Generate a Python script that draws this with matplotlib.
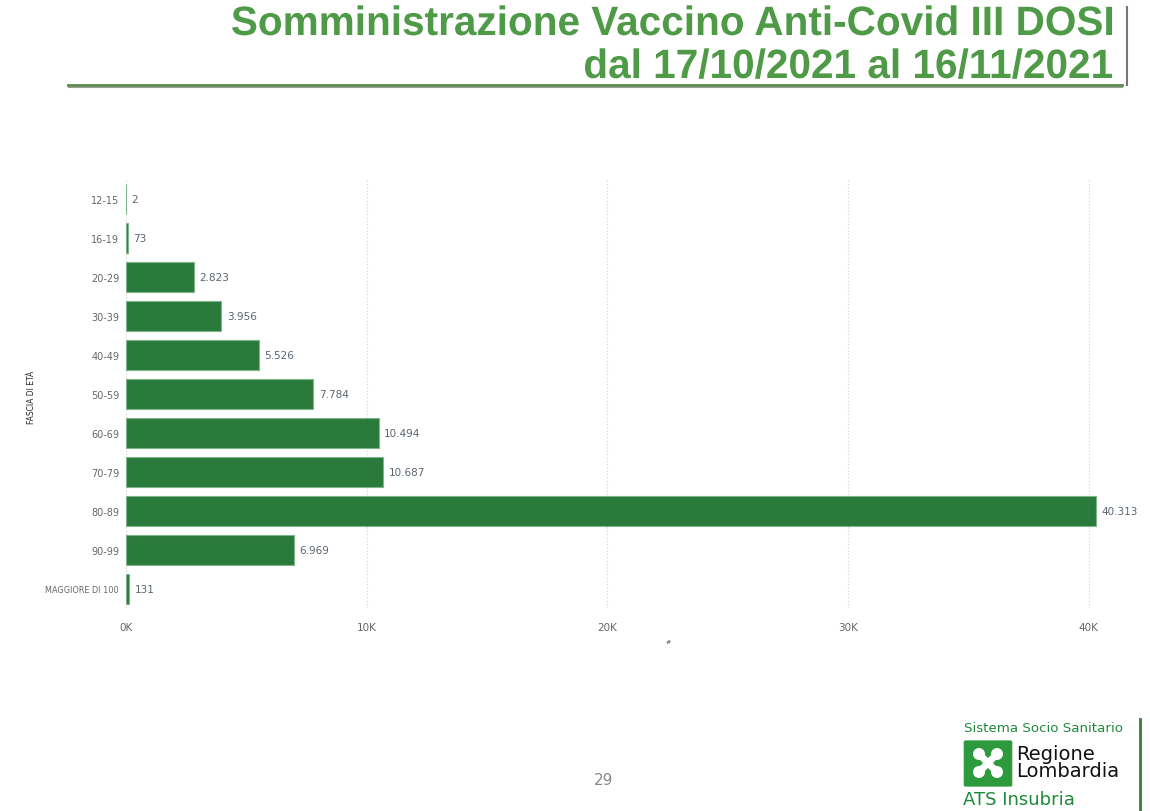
import matplotlib.pyplot as plt
from matplotlib.patches import FancyBboxPatch, PathPatch, Circle
from matplotlib.lines import Line2D
from matplotlib.textpath import TextPath
from matplotlib.font_manager import FontProperties
from matplotlib.transforms import Affine2D

# data
fasce = ["12-15", "16-19", "20-29", "30-39", "40-49", "50-59", "60-69",
         "70-79", "80-89", "90-99", "MAGGIORE DI 100"]
dosi = [2, 73, 2823, 3956, 5526, 7784, 10494, 10687, 40313, 6969, 131]
xticks = [0, 10000, 20000, 30000, 40000]
xticklabels = ["0K", "10K", "20K", "30K", "40K"]
titolo = ["Somministrazione Vaccino Anti-Covid III DOSI",
          "dal 17/10/2021 al 16/11/2021"]

green = "#2a7a3b"
title_green = "#4e9a47"
gray = "#666666"
W, H = 1150, 812

fig = plt.figure(figsize=(11.5, 8.12), dpi=100)
ax = fig.add_axes([0.1096, 0.2494, 0.8643, 0.5283])

pos = range(len(fasce))
ax.barh(pos, dosi, height=0.77, color=green, edgecolor="#7fb58a", linewidth=0.8)
for p, v in zip(pos, dosi):
    lab = f"{v:,}".replace(",", ".")
    ax.text(v + 230, p, lab, va="center", ha="left", fontsize=7.5, color="#5a6470")

ax.set_xlim(0, 41300)
ax.set_ylim(len(fasce) - 0.5, -0.5)
ax.set_yticks(list(pos))
ax.set_yticklabels(fasce, fontsize=7, color=gray)
ax.get_yticklabels()[-1].set_fontsize(5.9)
ax.set_xticks(xticks)
ax.set_xticklabels(xticklabels, fontsize=7.5, color=gray)
ax.tick_params(length=0)
ax.tick_params(axis="x", pad=10)
ax.tick_params(axis="y", pad=5)
ax.grid(axis="x", color="#d0d0d0", linestyle=(0, (1, 2)), linewidth=0.8)
ax.set_axisbelow(True)
for s in ax.spines.values():
    s.set_visible(False)

fig.text(32 / W, 1 - 397 / H, "FASCIA DI ETÀ", rotation=90, fontsize=5.5,
         color="#222222", ha="center", va="center")
fig.text(668 / W, 1 - 643 / H, "#", fontsize=4.5, color="#444444",
         ha="center", va="center")

# title, drawn as condensed text paths (no narrow font installed)
fp = FontProperties(family="Liberation Sans", weight="bold")
paths = [TextPath((0, 0), t, size=41, prop=fp) for t in titolo]
ext0 = paths[0].get_extents()
sx = 880 / (ext0.x1 - ext0.x0)
for tp, base in zip(paths, [36, 79]):
    ext = tp.get_extents()
    tr = Affine2D().translate(-ext.x1, 0).scale(sx, 1).translate(1112, H - base)
    fig.add_artist(PathPatch(tp, facecolor=title_green, edgecolor="none",
                             transform=tr))
fig.add_artist(Line2D([68 / W, 1122 / W], [1 - 86 / H, 1 - 86 / H],
                      color="#5a8a4a", linewidth=2))
fig.add_artist(Line2D([68 / W, 1122 / W], [1 - 87.5 / H, 1 - 87.5 / H],
                      color="#9a9a9a", linewidth=0.8))
fig.add_artist(Line2D([1127 / W, 1127 / W], [1 - 8 / H, 1 - 86 / H],
                      color="#777777", linewidth=1.5))

# footer
fig.text(604 / W, 1 - 781 / H, "29", fontsize=11, color="#888888",
         ha="center", va="center")
fig.add_artist(Line2D([1140 / W, 1140 / W], [0, 1 - 720 / H],
                      color="#3a7a3a", linewidth=2))
fig.text(964 / W, 1 - 729 / H, "Sistema Socio Sanitario", fontsize=9.6,
         color="#1e8a3a", ha="left", va="center")
fig.add_artist(FancyBboxPatch((966 / W, 1 - 786 / H), 44 / W, 43 / H,
                              boxstyle="round,pad=0.002", facecolor="#2e9a3e",
                              edgecolor="none", transform=fig.transFigure))
cx, cy = 988, H - 764
for dx, dy in [(-9, 9), (9, 9), (-9, -9), (9, -9)]:
    fig.add_artist(Line2D([cx, cx + dx], [cy, cy + dy], color="white",
                          linewidth=5, solid_capstyle="round", transform=None))
    fig.add_artist(Circle((cx + dx, cy + dy), 6, facecolor="white",
                          edgecolor="none", transform=None))
fig.add_artist(Circle((cx, cy), 3, facecolor="#2e9a3e", edgecolor="none",
                      transform=None))
fig.text(1016 / W, 1 - 755 / H, "Regione", fontsize=14, color="#111111",
         ha="left", va="center")
fig.text(1016 / W, 1 - 772 / H, "Lombardia", fontsize=14, color="#111111",
         ha="left", va="center")
fig.text(963 / W, 1 - 800 / H, "ATS Insubria", fontsize=13, color="#1e8a3a",
         ha="left", va="center")

fig.savefig("out.png", dpi=100)
